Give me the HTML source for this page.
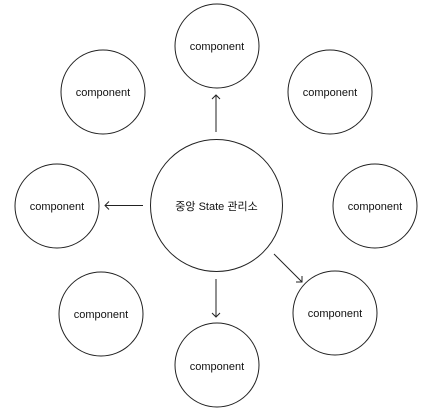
<!DOCTYPE html>
<html><head><style>body{margin:0;background:#fff}svg{display:block}</style></head><body>
<svg width="427" height="413" xmlns="http://www.w3.org/2000/svg" font-family="Liberation Sans, Noto Sans CJK KR, sans-serif" font-size="11" fill="#111">
<g fill="none" stroke="#222" stroke-width="1">
<circle cx="216.5" cy="205.5" r="66"/>
<circle cx="217" cy="46" r="42"/>
<circle cx="103" cy="92" r="42"/>
<circle cx="330" cy="92" r="42"/>
<circle cx="57" cy="206" r="42"/>
<circle cx="375" cy="206" r="42"/>
<circle cx="101" cy="314" r="42"/>
<circle cx="217" cy="365" r="42"/>
<circle cx="335" cy="313" r="42"/>
<path d="M216 132V95M212 99l4-4 4 4"/>
<path d="M143 205.5H105M109 201.5l-4 4 4 4"/>
<path d="M216 279V317M212 313l4 4 4-4"/>
<path d="M274 254L302 282M302 276v6h-6"/>
</g>
<g text-anchor="middle" stroke="none">
<text x="216.5" y="210">중앙 State 관리소</text>
<text x="217" y="50">component</text>
<text x="103" y="96">component</text>
<text x="330" y="96">component</text>
<text x="57" y="210">component</text>
<text x="375" y="210">component</text>
<text x="101" y="318">component</text>
<text x="217" y="370">component</text>
<text x="335" y="317">component</text>
</g>
</svg>
</body></html>
